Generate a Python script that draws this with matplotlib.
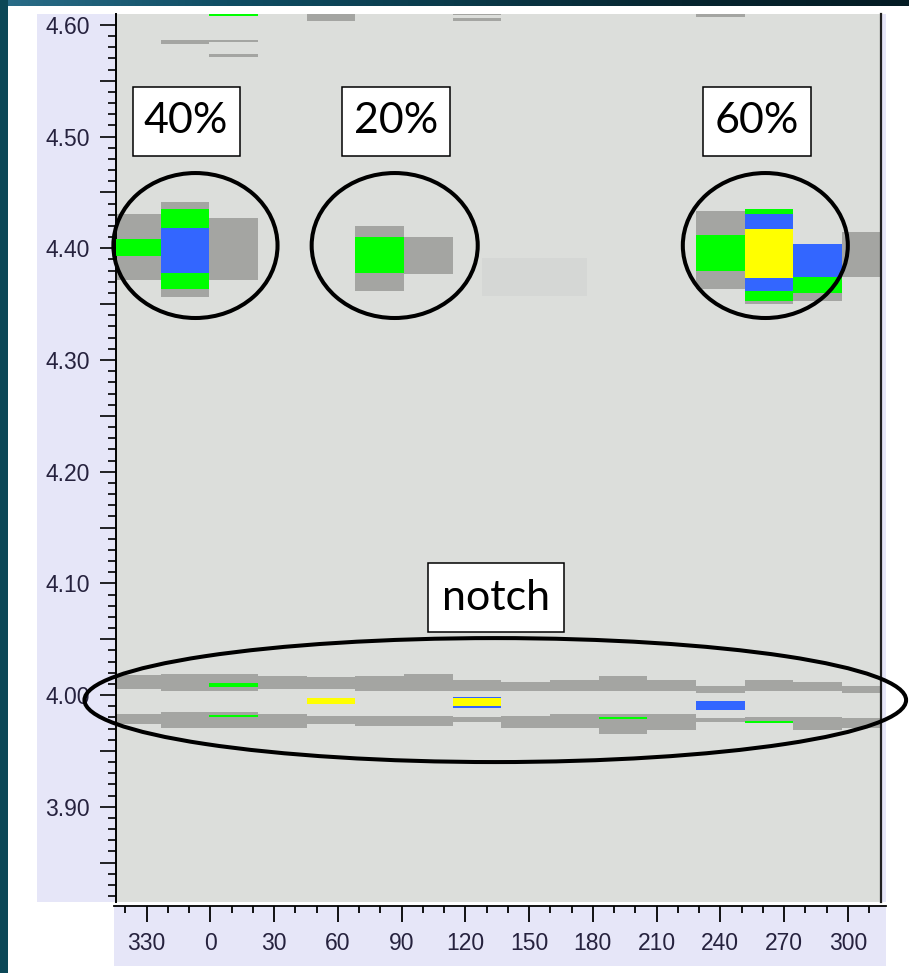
import numpy as np
import matplotlib.pyplot as plt
from matplotlib.patches import Ellipse, Rectangle
from matplotlib.colors import LinearSegmentedColormap
from matplotlib.ticker import MultipleLocator, FuncFormatter

# ── Canvas ─────────────────────────────────────────────────────────────────────
W, H, DPI = 909, 973, 100

def px_box(x0, y0, x1, y1):
    """pixel box (top-left origin) -> fig.add_axes rect"""
    return [x0 / W, 1 - y1 / H, (x1 - x0) / W, (y1 - y0) / H]

# ── Data (phase bins in degrees, amplitude values) ─────────────────────────────
PHASE_START = [-46.7, -23.8, -0.9, 22.0, 44.9, 67.8, 90.6, 113.5,
               136.4, 159.3, 182.2, 205.1, 228.0, 250.9, 273.8, 296.7]
BIN_WIDTH = 22.9

# notch: two grey bands per bin
NOTCH_UP_LO = [4.0054, 4.0036, 4.0036, 4.0051, 4.0051, 4.0036, 4.0036, 4.0036,
               4.0036, 4.0036, 4.0036, 4.0036, 4.0021, 4.0036, 4.0036, 4.0021]
NOTCH_UP_HI = [4.0179, 4.0188, 4.0188, 4.0170, 4.0159, 4.0170, 4.0188, 4.0135,
               4.0119, 4.0135, 4.0170, 4.0135, 4.0084, 4.0135, 4.0119, 4.0084]
NOTCH_LO_LO = [3.9741, 3.9702, 3.9702, 3.9702, 3.9741, 3.9723, 3.9723, 3.9761,
               3.9702, 3.9702, 3.9651, 3.9687, 3.9761, 3.9747, 3.9687, 3.9702]
NOTCH_LO_HI = [3.9827, 3.9851, 3.9851, 3.9827, 3.9815, 3.9815, 3.9815, 3.9806,
               3.9815, 3.9830, 3.9830, 3.9830, 3.9797, 3.9806, 3.9806, 3.9797]

# grey cells (clusters + stray cells near the top)
GRAY_BIN = [0, 1, 2, 5, 6, 12, 13, 14, 15, 1, 2, 2, 4, 7, 7, 12]
GRAY_LO  = [4.3716, 4.3564, 4.3716, 4.3618, 4.3770, 4.3636, 4.3502, 4.3529,
            4.3744, 4.5830, 4.5848, 4.5716, 4.6036, 4.6087, 4.6036, 4.6069]
GRAY_HI  = [4.4307, 4.4415, 4.4272, 4.4200, 4.4102, 4.4334, 4.4352, 4.4039,
            4.4147, 4.5866, 4.5866, 4.5738, 4.6150, 4.6150, 4.6060, 4.6150]

GREEN_BIN = [0, 1, 5, 12, 13, 14, 2, 2, 2, 10, 13]
GREEN_LO  = [4.3931, 4.3636, 4.3779, 4.3797, 4.3529, 4.3600, 4.6083,
             4.0072, 3.9800, 3.9785, 3.9752]
GREEN_HI  = [4.4084, 4.4352, 4.4102, 4.4119, 4.4352, 4.4039, 4.6150,
             4.0105, 3.9818, 3.9800, 3.9770]

BLUE_BIN = [1, 13, 14, 7, 12]
BLUE_LO  = [4.3779, 4.3618, 4.3744, 3.9884, 3.9869]
BLUE_HI  = [4.4182, 4.4307, 4.4039, 3.9985, 3.9949]

YELLOW_BIN = [13, 4, 7]
YELLOW_LO  = [4.3735, 3.9920, 3.9899]
YELLOW_HI  = [4.4173, 3.9971, 3.9973]

# faint highlighted region
FAINT_PHASE = [127.2, 176.6]
FAINT_VAL   = [4.3573, 4.3913]

LAYERS = [
    (GRAY_BIN, GRAY_LO, GRAY_HI, "#a4a5a2", 2),
    (GREEN_BIN, GREEN_LO, GREEN_HI, "#00ff00", 3),
    (BLUE_BIN, BLUE_LO, BLUE_HI, "#3366ff", 4),
    (YELLOW_BIN, YELLOW_LO, YELLOW_HI, "#ffff00", 5),
]

# annotations: (label, x0, x1, y0, y1) box corners in data coords
BOXES = [
    ("40%", -37.0, 13.4, 4.4827, 4.5445),
    ("20%", 61.4, 112.2, 4.4827, 4.5445),
    ("60%", 231.2, 282.1, 4.4827, 4.5445),
    ("notch", 101.8, 165.8, 4.0564, 4.1182),
]
# ellipses: (cx, cy, width, height) in data coords
ELLIPSES = [
    (-7.4, 4.4025, 77.2, 0.1298),
    (86.3, 4.4025, 78.1, 0.1298),
    (260.6, 4.4025, 77.6, 0.1298),
    (133.6, 3.9955, 386.4, 0.1110),
]

BG       = "#dcdedb"
LAVENDER = "#e6e6f8"
TEAL     = "#0b4757"
LABEL_C  = "#26223e"

# ── Figure / frame ─────────────────────────────────────────────────────────────
fig = plt.figure(figsize=(W / DPI, H / DPI), dpi=DPI, facecolor="white")

# lavender panels behind y labels and right edge (drawn under the axes)
fig.patches.append(Rectangle((37 / W, 1 - 902 / H), (116 - 37) / W, 888 / H,
                             transform=fig.transFigure, facecolor=LAVENDER,
                             edgecolor="none", zorder=-1))
fig.patches.append(Rectangle((880 / W, 1 - 902 / H), 6 / W, 888 / H,
                             transform=fig.transFigure, facecolor=LAVENDER,
                             edgecolor="none", zorder=-1))

# teal frame strips
top = fig.add_axes(px_box(0, 0, W, 6))
grad = np.linspace(0, 1, 256).reshape(1, -1)
cmap = LinearSegmentedColormap.from_list(
    "teal", ["#2a6d88", "#0f4d63", "#0a3a4a", "#06252f", "#041c24"])
top.imshow(grad, aspect="auto", cmap=cmap, extent=[0, 1, 0, 1])
top.axis("off")
left = fig.add_axes(px_box(0, 0, 8, H))
left.set_facecolor(TEAL)
left.set_xticks([]); left.set_yticks([])
for s in left.spines.values():
    s.set_visible(False)

# ── Main plot ──────────────────────────────────────────────────────────────────
ax = fig.add_axes(px_box(115.5, 14, 881, 902))
ax.set_facecolor(BG)
ax.set_xlim(-45, 315)
ax.set_ylim(3.8147, 4.6098)

ax.bar(np.mean(FAINT_PHASE), FAINT_VAL[1] - FAINT_VAL[0],
       width=FAINT_PHASE[1] - FAINT_PHASE[0], bottom=FAINT_VAL[0],
       color="#d5d7d5", linewidth=0, zorder=1)

starts = np.array(PHASE_START)
for lo, hi in [(NOTCH_UP_LO, NOTCH_UP_HI), (NOTCH_LO_LO, NOTCH_LO_HI)]:
    lo = np.array(lo); hi = np.array(hi)
    ax.bar(starts, hi - lo, width=BIN_WIDTH, bottom=lo, align="edge",
           color="#a4a5a2", linewidth=0, zorder=2)

for bins, lo, hi, col, z in LAYERS:
    lo = np.array(lo); hi = np.array(hi)
    ax.bar(starts[bins], hi - lo, width=BIN_WIDTH, bottom=lo, align="edge",
           color=col, linewidth=0, zorder=z)

# spines
for side in ["top", "bottom"]:
    ax.spines[side].set_visible(False)
ax.spines["left"].set_linewidth(1.4)
ax.spines["right"].set_linewidth(1.6)
ax.spines["right"].set_color("#202020")

# y ticks
ax.yaxis.set_major_locator(MultipleLocator(0.05))
ax.yaxis.set_minor_locator(MultipleLocator(0.01))
ax.yaxis.set_major_formatter(FuncFormatter(
    lambda v, p: f"{v:.2f}" if round(v * 100) % 10 == 0 else ""))
ax.tick_params(axis="y", which="major", length=11.5, width=1.2, pad=7,
               labelsize=16.5, labelcolor=LABEL_C, direction="out")
ax.tick_params(axis="y", which="minor", length=5.8, width=1.2, direction="out")
ax.tick_params(axis="x", which="both", bottom=False, labelbottom=False)
for lab in ax.get_yticklabels():
    lab.set_family("Liberation Sans")

# ellipses + annotation boxes
for cx, cy, w, h in ELLIPSES:
    ax.add_patch(Ellipse((cx, cy), w, h, fill=False, edgecolor="black",
                         linewidth=2.9, clip_on=False, zorder=6))
for label, x0, x1, y0, y1 in BOXES:
    ax.add_patch(Rectangle((x0, y0), x1 - x0, y1 - y0, facecolor="white",
                           edgecolor="black", linewidth=1.1, clip_on=False,
                           zorder=7))
    ax.text((x0 + x1) / 2, (y0 + y1) / 2, label, ha="center", va="center",
            fontsize=31, family="Lato", color="black", zorder=8)

# ── X-axis panel ───────────────────────────────────────────────────────────────
xa = fig.add_axes(px_box(114, 905.5, 886, 966))
xa.set_facecolor(LAVENDER)
xa.set_xlim(-45.38, 318.0)
xa.set_ylim(0, 1)
xa.set_yticks([])
for side in ["bottom", "left", "right"]:
    xa.spines[side].set_visible(False)
xa.spines["top"].set_linewidth(1.3)
xa.xaxis.set_ticks_position("top")
xa.set_xticks(np.arange(-30, 301, 30))
xa.set_xticks(np.arange(-40, 311, 10), minor=True)
xa.tick_params(axis="x", which="major", direction="in", length=11.5, width=1.3,
               labeltop=False, labelbottom=False)
xa.tick_params(axis="x", which="minor", direction="in", length=5.0, width=1.3)
for v in np.arange(-30, 301, 30):
    xa.text(v, 0.38, str(int(v) % 360), ha="center", va="center",
            fontsize=16.5, family="Liberation Sans", color=LABEL_C)

fig.savefig("out.png", dpi=DPI, facecolor="white")
